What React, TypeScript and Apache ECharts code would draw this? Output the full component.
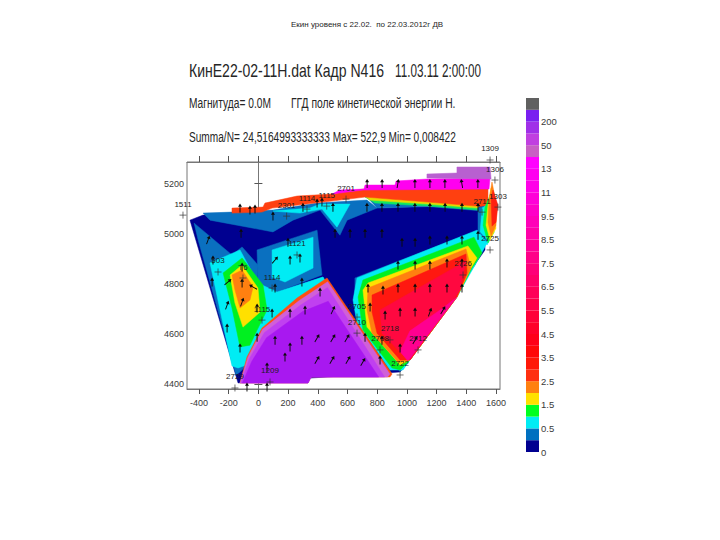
import React, { useEffect, useRef } from "react";
import * as echarts from "echarts";

const xTicks = [-400, -200, 0, 200, 400, 600, 800, 1000, 1200, 1400, 1600];
const yTicks = [4400, 4600, 4800, 5000, 5200];
const scaleLabels = ["0", "0.5", "1.5", "2.5", "3.5", "4.5", "5.5", "6.5", "7.5", "8.5", "9.5", "11", "13", "50", "200"];
const scaleColors = [
  "#000090", "#0070c0", "#00ecf4", "#00ff20", "#ffe000", "#ff8010", "#ff3010", "#ff1808", "#ff0808", "#ff0018",
  "#ff0028", "#ff0038", "#ff0048", "#ff0058", "#ff0068", "#ff0078", "#ff0088", "#ff0098", "#ff00a8", "#ff00b8",
  "#ff00c8", "#ff00d8", "#ff00e8", "#ff00f0", "#ff00ff", "#c860c4", "#c040e0", "#a030e8", "#7a20f0", "#606060",
];

const navyField = [[-461, 5054], [-137, 4404], [954, 4448], [1526, 4935], [1520, 5114], [799, 5102], [415, 5094], [98, 5082], [-373, 5074]];
const blueTop = [[-373, 5082], [-178, 5086], [98, 5094], [395, 5122], [731, 5134], [799, 5102], [597, 5054], [549, 4994], [415, 5094], [233, 5054], [98, 5007], [-326, 5054]];
const blueRightStrip = [[731, 5146], [1142, 5126], [1480, 5106], [1480, 5092], [1142, 5108], [799, 5102]];
const cyanTop = [[98, 5090], [347, 5102], [415, 5118], [617, 5118], [529, 5026], [428, 5098], [280, 5082]];
const greenStrip = [[718, 5146], [1142, 5126], [1480, 5110], [1480, 5094], [1142, 5110], [785, 5122]];
const yellowStrip = [[718, 5150], [1142, 5130], [1480, 5114], [1480, 5102], [1142, 5118], [750, 5134]];
const redTop = [[-178, 5082], [24, 5086], [92, 5102], [381, 5122], [718, 5146], [1142, 5126], [1546, 5106], [1546, 5178], [704, 5178], [496, 5158], [260, 5150], [44, 5122], [31, 5106], [-178, 5102]];
const magentaTop = [[496, 5158], [549, 5174], [711, 5178], [718, 5194], [920, 5194], [927, 5210], [1135, 5218], [1560, 5222], [1553, 5178], [704, 5174]];
const plumTop = [[1135, 5222], [1135, 5238], [1337, 5242], [1337, 5266], [1560, 5266], [1567, 5218]];

const rightBlue = [[1479, 5102], [1520, 5110], [1540, 4975], [1479, 5006]];
const rightCyan = [[1506, 5102], [1540, 5114], [1573, 4994], [1540, 4955], [1493, 5006]];
const rightGreen = [[1526, 5106], [1560, 5154], [1587, 5006], [1546, 4963], [1513, 5034]];
const rightYellow = [[1546, 5114], [1567, 5182], [1600, 5022], [1560, 4975], [1533, 5034]];
const rightOrange = [[1553, 5134], [1573, 5206], [1607, 5106], [1600, 5034], [1567, 4990], [1546, 5046]];
const rightRed = [[1567, 5142], [1580, 5174], [1613, 5114], [1600, 5046], [1573, 5030]];

const leftBlue = [[-433, 5042], [-178, 4915], [-110, 4947], [-3, 4875], [-9, 4795], [125, 4767], [435, 4827], [470, 4780], [300, 4690], [60, 4560], [-124, 4448], [-151, 4436], [-406, 4975]];
const patchBlue = [[-9, 4935], [395, 5014], [428, 4835], [125, 4767], [-3, 4795]];
const patchCyan = [[92, 4935], [368, 4986], [368, 4863], [179, 4807], [92, 4827]];
const leftCyan = [[-326, 4883], [-124, 4935], [-3, 4803], [125, 4767], [435, 4827], [470, 4790], [300, 4690], [60, 4560], [-60, 4480], [-137, 4464], [-178, 4472]];
const leftGreen = [[-238, 4843], [-110, 4903], [31, 4795], [58, 4695], [-9, 4615], [-57, 4555], [-124, 4548], [-178, 4703]];
const leftYellow = [[-191, 4835], [-110, 4875], [-3, 4783], [11, 4687], [-104, 4627], [-158, 4723]];
const leftOrange = [[-178, 4835], [-110, 4855], [-36, 4787], [-57, 4735], [-124, 4703], [-158, 4775]];

const lobeBlue = [[650, 4823], [1479, 5014], [1540, 4975], [1459, 4875], [954, 4448], [650, 4735]];
const lobeCyan = [[664, 4823], [1472, 5014], [1540, 4963], [1459, 4875], [1337, 4747], [1021, 4496], [974, 4456], [886, 4456], [664, 4643], [637, 4735]];
const lobeGreen = [[704, 4815], [1452, 4986], [1506, 4923], [1439, 4863], [1337, 4747], [1021, 4496], [954, 4456], [900, 4464], [704, 4615], [671, 4747]];
const lobeYellow = [[738, 4803], [1411, 4951], [1472, 4903], [1425, 4855], [1337, 4747], [1021, 4496], [954, 4476], [731, 4627], [704, 4775]];
const lobeOrange = [[738, 4783], [1398, 4939], [1432, 4863], [1337, 4747], [1021, 4496], [940, 4488], [765, 4603], [731, 4695]];
const lobeRed = [[765, 4755], [1398, 4919], [1405, 4843], [1337, 4747], [1021, 4496], [954, 4496], [799, 4603], [765, 4687]];
const lobeCrimson = [[819, 4695], [1398, 4891], [1358, 4775], [1021, 4496], [967, 4520], [832, 4603]];
const lobePink = [[954, 4530], [1021, 4612], [1243, 4703], [1337, 4747], [1007, 4492]];

const triOrange = [[-124, 4404], [-77, 4508], [24, 4623], [260, 4743], [462, 4823], [900, 4440], [886, 4428], [354, 4428], [334, 4404]];
const triPlum = [[-124, 4404], [-70, 4508], [28, 4618], [275, 4733], [466, 4808], [885, 4440], [870, 4428], [354, 4428], [334, 4404]];
const triViolet = [[-118, 4404], [-62, 4500], [40, 4605], [285, 4715], [465, 4785], [850, 4428], [354, 4428], [334, 4404]];
const triPurple = [[-108, 4404], [-45, 4490], [55, 4585], [300, 4690], [470, 4730], [810, 4428], [354, 4428], [334, 4404]];

const contourBands = [
  { points: navyField, color: "#000090" }, { points: blueTop, color: "#0a70c0" }, { points: blueRightStrip, color: "#0a70c0" },
  { points: cyanTop, color: "#00ecf4" }, { points: greenStrip, color: "#10e860" }, { points: yellowStrip, color: "#e8d800" },
  { points: redTop, color: "#ff4010" }, { points: magentaTop, color: "#ff00f0" }, { points: plumTop, color: "#b860d0" },
  { points: rightBlue, color: "#0a70c0" }, { points: rightCyan, color: "#00ecf4" }, { points: rightGreen, color: "#00f840" },
  { points: rightYellow, color: "#ffe000" }, { points: rightOrange, color: "#ff8010" }, { points: rightRed, color: "#ff2010" },
  { points: leftBlue, color: "#0a70c0" }, { points: patchBlue, color: "#0a70c0" }, { points: patchCyan, color: "#00ecf4" },
  { points: leftCyan, color: "#00ecf4" }, { points: leftGreen, color: "#00f020" }, { points: leftYellow, color: "#ffe000" },
  { points: leftOrange, color: "#ff8010" },
  { points: lobeBlue, color: "#0a70c0" }, { points: lobeCyan, color: "#00ecf4" }, { points: lobeGreen, color: "#00f020" },
  { points: lobeYellow, color: "#ffe000" }, { points: lobeOrange, color: "#ff8010" }, { points: lobeRed, color: "#ff1810" },
  { points: lobeCrimson, color: "#ff0840" }, { points: lobePink, color: "#ff0090" },
  { points: triOrange, color: "#ff5010" }, { points: triPlum, color: "#d060d8" }, { points: triViolet, color: "#c040f0" },
  { points: triPurple, color: "#a818f0" },
];

const flowRow5200 = [[732, 5200, 0], [833, 5200, 0], [939, 5200, -10], [1054, 5200, 0], [1155, 5200, 0], [1256, 5200, 0], [1370, 5200, 10], [1478, 5200, 0]];
const flowRow5100 = [[98, 5070, 0], [300, 5105, 0], [502, 5105, 0], [731, 5105, 0], [832, 5105, 0], [940, 5105, 0], [1054, 5105, 0], [1155, 5105, 0], [1257, 5105, 0], [1371, 5105, 0], [1479, 5105, 0], [-124, 5102, 0], [-57, 5094, 0], [-23, 5098, 0], [395, 5122, 0], [428, 5126, 0]];
const flowRow5000 = [[-339, 4975, -20], [-117, 5002, 0], [199, 4966, 0], [516, 5002, 0], [617, 5002, 0], [718, 5002, 0], [832, 5002, 0], [967, 4966, 0], [1055, 4966, 0], [1155, 4975, 0], [1270, 4975, 0], [1371, 4975, 0], [1479, 4994, 0]];
const flowRow4880 = [[213, 4895, 0], [280, 4903, 0], [112, 4895, -40], [940, 4875, 0], [1055, 4875, 0], [1155, 4875, 0], [1270, 4883, 0], [1371, 4883, 0], [-306, 4895, 0], [-110, 4867, 0]];
const flowRow4790 = [[-312, 4807, 0], [-205, 4807, -50], [-110, 4803, 0], [-36, 4787, 60], [112, 4783, 0], [293, 4807, 0], [415, 4767, 0], [738, 4783, 0], [839, 4775, 0], [940, 4783, 0], [1055, 4783, 0], [1155, 4783, 0], [1270, 4783, 0], [1371, 4783, 0]];
const flowRow4690 = [[-211, 4715, -20], [-110, 4727, -20], [-9, 4703, 0], [92, 4683, 0], [213, 4683, 0], [314, 4695, 0], [502, 4695, -25], [752, 4707, 0], [853, 4675, 0], [954, 4687, 0], [1055, 4687, 0], [1155, 4687, -20], [1243, 4695, -30]];
const flowRow4590 = [[-211, 4623, 0], [-9, 4587, 0], [112, 4575, 0], [213, 4548, 0], [293, 4575, 0], [395, 4583, -30], [502, 4583, -30], [597, 4583, -30], [718, 4587, 0], [832, 4575, 0], [954, 4544, 0], [1055, 4575, -30]];
const flowRow4490 = [[-124, 4544, 0], [179, 4508, 0], [395, 4496, -30], [496, 4496, -30], [604, 4496, -30], [704, 4488, -30], [819, 4496, 0], [58, 4468, 0], [58, 4388, 0], [-77, 4388, 0]];
const flowVectors = [...flowRow5200, ...flowRow5100, ...flowRow5000, ...flowRow4880, ...flowRow4790, ...flowRow4690, ...flowRow4590, ...flowRow4490];

const stationNames = ["1309", "1306", "1303", "1511", "2701", "1115", "1114", "2301", "1121", "1114", "503", "T6", "1115", "2705", "2710", "2722", "1209", "2725", "2711", "2718", "2712", "2726", "2729", "2708"];
const stationX = [1560, 1593, 1613, -508, 590, 460, 327, 190, 260, 92, -272, -104, 24, 664, 664, 954, 78, 1560, 1506, 886, 1075, 1378, -158, 819];
const stationY = [5294, 5214, 5106, 5074, 5138, 5110, 5098, 5070, 4915, 4783, 4847, 4823, 4655, 4667, 4603, 4436, 4408, 4935, 5086, 4576, 4536, 4835, 4384, 4536];

const headline = "КинЕ22-02-11Н.dat Кадр N416";
const dateText = "11.03.11 2:00:00";
const magnitudeText = "Магнитуда= 0.0М";
const fieldText = "ГГД поле кинетической энергии Н.";
const summaryText = "Summa/N= 24,5164993333333 Max= 522,9 Min= 0,008422";
const slideTitle = "Екин уровеня с 22.02.  по 22.03.2012г ДВ";

const FONT = '"Liberation Sans", sans-serif';
const heading = (text: string, x: number, y: number, size: number, scaleX: number) => ({
  type: "text", x, y, scaleX, silent: true,
  style: { text, fill: "#262626", font: `normal ${size}px ${FONT}`, textVerticalAlign: "middle", textBaseline: "middle" },
});

export default function App() {
  const ref = useRef<HTMLDivElement>(null);
  useEffect(() => {
    const chart = echarts.init(ref.current!, undefined, { renderer: "svg" });
    const axisText = { color: "#3a3a3a", fontFamily: FONT, fontSize: 9 };
    chart.setOption({
      animation: false,
      backgroundColor: "#ffffff",
      grid: [
        { left: 187, right: 220, top: 162, bottom: 151, show: true, borderColor: "#777", borderWidth: 1, backgroundColor: "#fff" },
        { left: 526, width: 13, top: 98, bottom: 88, show: false },
      ],
      xAxis: [
        {
          type: "value", gridIndex: 0, min: -481, max: 1627, position: "bottom",
          splitLine: { show: false }, axisLine: { lineStyle: { color: "#777" } },
          axisTick: { length: 5, customValues: xTicks, lineStyle: { color: "#555" } },
          axisLabel: { customValues: xTicks, margin: 9, ...axisText, formatter: (v: number) => String(v) },
        },
        {
          type: "value", gridIndex: 0, min: -481, max: 1627, position: "top",
          splitLine: { show: false }, axisLine: { lineStyle: { color: "#777" } },
          axisTick: { length: 6, customValues: xTicks, lineStyle: { color: "#555" } },
          axisLabel: { show: false },
        },
        { type: "category", gridIndex: 1, data: ["scale"], show: false },
      ],
      yAxis: [
        {
          type: "value", gridIndex: 0, min: 4380, max: 5286, position: "left",
          splitLine: { show: false }, axisLine: { lineStyle: { color: "#777" } },
          axisTick: { length: 4, customValues: yTicks, lineStyle: { color: "#555" } },
          axisLabel: { customValues: yTicks, margin: 3, ...axisText, formatter: (v: number) => String(v) },
        },
        {
          type: "value", gridIndex: 0, min: 4380, max: 5286, position: "right",
          splitLine: { show: false }, axisLine: { lineStyle: { color: "#777" } },
          axisTick: { length: 4, customValues: yTicks, lineStyle: { color: "#555" } },
          axisLabel: { show: false },
        },
        {
          type: "value", gridIndex: 1, min: 0, max: 30, interval: 2, position: "right",
          splitLine: { show: false }, axisLine: { show: false }, axisTick: { show: false },
          axisLabel: {
            margin: 2, ...axisText, fontSize: 9.5,
            showMaxLabel: false,
            formatter: (v: number) => scaleLabels[v / 2] ?? "",
          },
        },
      ],
      series: [
        {
          type: "custom", xAxisIndex: 0, yAxisIndex: 0, clip: false, silent: true, z: 2,
          data: contourBands.map((_, i) => [i]),
          encode: { x: -1, y: -1 },
          renderItem: (params: any, api: any) => {
            const band = contourBands[params.dataIndex];
            return {
              type: "polygon",
              shape: { points: band.points.map((p) => api.coord(p)) },
              style: { fill: band.color, stroke: band.color, lineWidth: 0.5 },
            };
          },
        },
        {
          type: "scatter", xAxisIndex: 0, yAxisIndex: 0, clip: false, silent: true, z: 3,
          data: flowVectors,
          symbol: "path://M5 0L8 7H5.7V20H4.3V7H2Z", symbolSize: [4, 9],
          symbolRotate: (value: number[]) => value[2],
          itemStyle: { color: "#0a0a0a", opacity: 1 },
        },
        {
          type: "scatter", xAxisIndex: 0, yAxisIndex: 0, clip: false, silent: true, z: 4,
          data: stationNames.map((name, i) => ({ name, value: [stationX[i], stationY[i]] })),
          symbol: "path://M5 0V10M0 5H10", symbolSize: 7,
          itemStyle: { color: "none", borderColor: "#333", borderWidth: 0.7, opacity: 1 },
          label: {
            show: true, position: "top", distance: 1, color: "#1c1c1c", fontFamily: FONT, fontSize: 8,
            formatter: (p: any) => p.name,
          },
        },
        ...scaleColors.map((color, i) => ({
          type: "bar", xAxisIndex: 2, yAxisIndex: 2, stack: "scale", barWidth: 13, silent: true,
          name: `level${i}`, data: [1], itemStyle: { color },
        })),
      ],
      graphic: [
        heading(slideTitle, 291, 24, 8, 1),
        heading(headline, 189, 70, 18, 0.78),
        heading(dateText, 395, 70, 18, 0.65),
        heading(magnitudeText, 189, 103, 15, 0.68),
        heading(fieldText, 291, 103, 15, 0.69),
        heading(summaryText, 189, 137, 15, 0.675),
      ],
    });
    return () => chart.dispose();
  }, []);
  return <div ref={ref} style={{ position: "fixed", left: 0, top: 0, width: 720, height: 540 }} />;
}
